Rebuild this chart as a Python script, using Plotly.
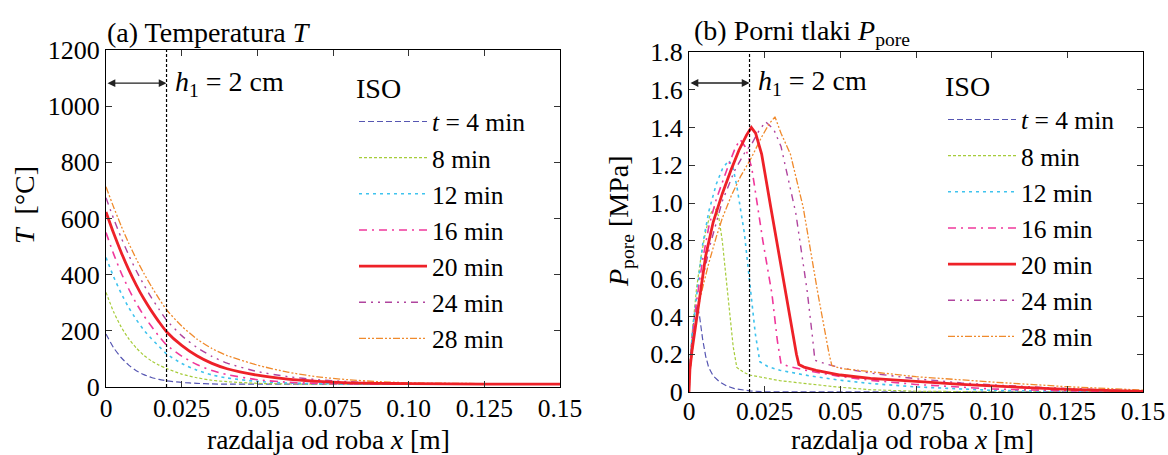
import plotly.graph_objects as go

W, H = 1168, 455

# ---------------- data: temperature ----------------
T_X = [0, 0.0025, 0.005, 0.0075, 0.01, 0.0125, 0.015, 0.0175, 0.02, 0.025, 0.03,
       0.035, 0.04, 0.05, 0.06, 0.07, 0.08, 0.09, 0.10, 0.125, 0.15]
T_4 = [189, 140, 105, 78, 58, 44, 34, 27, 22, 16, 13, 11, 10, 10, 10, 10, 10, 10, 10, 10, 10]
T_8 = [337, 268, 214, 172, 139, 113, 93, 78, 66, 46, 33, 24, 19, 13, 11, 10, 10, 10, 10, 10, 10]
T_12 = [461, 393, 334, 283, 240, 203, 172, 145, 118, 84, 60, 43, 32, 20, 14, 12, 11, 10, 10, 10, 10]
T_16 = [550, 474, 407, 349, 298, 254, 216, 181, 150, 110, 80, 59, 44, 26, 17, 13, 11, 10, 10, 10, 10]
T_20 = [623, 548, 480, 418, 363, 314, 271, 232, 197, 148, 111, 84, 65, 42, 28, 20, 15, 13, 12, 10, 10]
T_24 = [674, 600, 532, 470, 414, 364, 318, 277, 238, 183, 141, 109, 85, 55, 37, 26, 19, 15, 13, 11, 10]
T_28 = [713, 641, 574, 512, 456, 405, 358, 315, 275, 217, 171, 137, 112, 78, 53, 36, 26, 19, 15, 12, 10]

# ---------------- data: pore pressure ----------------
P4_X = [0, 0.0004, 0.0012, 0.002, 0.0028, 0.0035, 0.0045, 0.0055, 0.0065, 0.008, 0.01,
        0.0125, 0.015, 0.02, 0.025, 0.15]
P4 = [0, 0.18, 0.33, 0.42, 0.46, 0.40, 0.28, 0.19, 0.13, 0.085, 0.055, 0.032, 0.018,
      0.006, 0.001, 0]

P8_X = [0, 0.0004, 0.0012, 0.0025, 0.004, 0.0055, 0.007, 0.0085, 0.0098, 0.011, 0.0128,
        0.0146, 0.0158, 0.018, 0.02, 0.025, 0.03, 0.04, 0.05, 0.06, 0.075, 0.1, 0.15]
P8 = [0, 0.17, 0.34, 0.55, 0.72, 0.85, 0.94, 0.98, 0.93, 0.80, 0.52, 0.24, 0.13, 0.105,
      0.09, 0.074, 0.06, 0.042, 0.025, 0.012, 0.004, 0.001, 0]

P12_X = [0, 0.0004, 0.0012, 0.0025, 0.0045, 0.0066, 0.009, 0.011, 0.0131, 0.0145, 0.0158,
         0.0183, 0.0201, 0.0219, 0.0234, 0.026, 0.03, 0.04, 0.05, 0.06, 0.075, 0.09, 0.1,
         0.125, 0.15]
P12 = [0, 0.16, 0.33, 0.52, 0.78, 0.96, 1.10, 1.18, 1.226, 1.19, 1.09, 0.84, 0.575, 0.31,
       0.16, 0.135, 0.115, 0.085, 0.062, 0.045, 0.027, 0.014, 0.009, 0.003, 0]

P16_X = [0, 0.0004, 0.0012, 0.0025, 0.0045, 0.0066, 0.009, 0.011, 0.0135, 0.0155, 0.017,
         0.0185, 0.0207, 0.0244, 0.0274, 0.0292, 0.0304, 0.033, 0.04, 0.05, 0.06, 0.075,
         0.09, 0.1, 0.125, 0.15]
P16 = [0, 0.15, 0.30, 0.48, 0.70, 0.88, 1.02, 1.11, 1.22, 1.30, 1.335, 1.30, 1.19, 0.80,
       0.52, 0.27, 0.15, 0.135, 0.11, 0.082, 0.062, 0.04, 0.024, 0.016, 0.006, 0.002]

P20_X = [0, 0.0003, 0.001, 0.0022, 0.004, 0.0055, 0.008, 0.011, 0.014, 0.0165, 0.019,
         0.0206, 0.022, 0.024, 0.027, 0.030, 0.033, 0.0355, 0.0363, 0.038, 0.042, 0.05,
         0.06, 0.075, 0.09, 0.1, 0.125, 0.15]
P20 = [0, 0.12, 0.22, 0.35, 0.55, 0.72, 0.90, 1.05, 1.18, 1.28, 1.36, 1.40, 1.37, 1.26,
       0.98, 0.70, 0.43, 0.20, 0.145, 0.132, 0.115, 0.09, 0.072, 0.055, 0.04, 0.032,
       0.014, 0.003]

P24_X = [0, 0.0004, 0.0012, 0.0025, 0.0045, 0.007, 0.011, 0.015, 0.0185, 0.0206, 0.023,
         0.0253, 0.028, 0.0304, 0.0353, 0.039, 0.0408, 0.0416, 0.045, 0.05, 0.06, 0.075,
         0.09, 0.1, 0.125, 0.15]
P24 = [0, 0.13, 0.26, 0.42, 0.60, 0.78, 1.01, 1.17, 1.27, 1.31, 1.38, 1.431, 1.39, 1.30,
       0.946, 0.54, 0.29, 0.168, 0.15, 0.128, 0.10, 0.07, 0.048, 0.038, 0.018, 0.006]

P28_X = [0, 0.0003, 0.001, 0.0022, 0.004, 0.0065, 0.009, 0.011, 0.014, 0.017, 0.0206,
         0.024, 0.0265, 0.0284, 0.0304, 0.0335, 0.0377, 0.0426, 0.0463, 0.0472, 0.05,
         0.06, 0.075, 0.1, 0.125, 0.15]
P28 = [0, 0.10, 0.20, 0.38, 0.52, 0.68, 0.82, 0.92, 1.04, 1.14, 1.24, 1.35, 1.42, 1.457,
       1.37, 1.26, 0.98, 0.52, 0.20, 0.14, 0.125, 0.108, 0.081, 0.053, 0.028, 0.01]

NAMES = ["<i>t</i> = 4 min", "8 min", "12 min", "16 min", "20 min", "24 min", "28 min"]
COLORS = ["#5656b2", "#a6cc3a", "#3fc3ee", "#f0389c", "#ee2128", "#b0449e", "#f08a2c"]
DASHES = ["6px,3px", "3px,2px", "3px,4px", "8px,5px,2px,5px", "solid",
          "7px,5px,2px,5px,2px,5px", "7px,2px,2px,2px,2px,2px"]
WIDTHS = [1.2, 1.2, 1.6, 1.6, 2.8, 1.4, 1.3]

T_SERIES = [T_4, T_8, T_12, T_16, T_20, T_24, T_28]
P_SERIES = [(P4_X, P4), (P8_X, P8), (P12_X, P12), (P16_X, P16), (P20_X, P20),
            (P24_X, P24), (P28_X, P28)]

H1 = 0.02          # h1 = 2 cm
ARROW_T = 1082
ARROW_P = 1.636

X_TICKS = [0, 0.025, 0.05, 0.075, 0.10, 0.125, 0.15]
X_TICKTEXT = ["0", "0.025", "0.05", "0.075", "0.10", "0.125", "0.15"]
T_TICKS = [0, 200, 400, 600, 800, 1000, 1200]
P_TICKS = [0, 0.2, 0.4, 0.6, 0.8, 1.0, 1.2, 1.4, 1.6, 1.8]
P_TICKTEXT = ["0", "0.2", "0.4", "0.6", "0.8", "1.0", "1.2", "1.4", "1.6", "1.8"]

FONT = "Liberation Serif, serif"

fig = go.Figure()
order = [0, 1, 2, 3, 5, 6, 4]  # draw red on top
for i in order:
    fig.add_trace(go.Scatter(
        x=T_X, y=T_SERIES[i], mode="lines", name=NAMES[i], xaxis="x", yaxis="y",
        line=dict(color=COLORS[i], width=WIDTHS[i], dash=DASHES[i], shape="spline", smoothing=0.6),
        legend="legend", legendrank=i + 1, legendgroup="a%d" % i))
for i in order:
    px_, py_ = P_SERIES[i]
    fig.add_trace(go.Scatter(
        x=px_, y=py_, mode="lines", name=NAMES[i], xaxis="x2", yaxis="y2",
        line=dict(color=COLORS[i], width=WIDTHS[i], dash=DASHES[i]),
        legend="legend2", legendrank=i + 1, legendgroup="b%d" % i))

axis_common = dict(showline=True, linecolor="black", linewidth=1, mirror="ticks",
                   ticks="inside", ticklen=6, tickcolor="#333", showgrid=False,
                   zeroline=False, automargin=False)
TICK_FONT = dict(family=FONT, size=26, color="black")
XTICK_FONT = dict(family=FONT, size=25.5, color="black")

LEG_FONT = dict(family=FONT, size=25.5, color="black")
fig.update_layout(
    width=W, height=H, margin=dict(l=0, r=0, t=0, b=0, pad=0, autoexpand=False),
    paper_bgcolor="white", plot_bgcolor="white",
    font=dict(family=FONT, color="black"),
    xaxis=dict(domain=[106 / W, 560 / W], range=[0, 0.15], tickvals=X_TICKS,
               ticktext=X_TICKTEXT, anchor="y", tickfont=XTICK_FONT,
               ticklabelstandoff=-2, **axis_common),
    yaxis=dict(domain=[1 - 387 / H, 1 - 50 / H], range=[0, 1200], tickvals=T_TICKS,
               anchor="x", tickfont=TICK_FONT, **axis_common),
    xaxis2=dict(domain=[689 / W, 1143 / W], range=[0, 0.15], tickvals=X_TICKS,
                ticktext=X_TICKTEXT, anchor="y2", tickfont=XTICK_FONT,
                ticklabelstandoff=-4, **axis_common),
    yaxis2=dict(domain=[1 - 392 / H, 1 - 52 / H], range=[0, 1.8], tickvals=P_TICKS,
                ticktext=P_TICKTEXT, anchor="x2", tickfont=TICK_FONT, **axis_common),
    legend=dict(x=354 / W, y=1 - 62 / H, xanchor="left", yanchor="top",
                bgcolor="rgba(0,0,0,0)", font=LEG_FONT,
                title=dict(text="ISO", font=dict(family=FONT, size=28)),
                itemwidth=68, tracegroupgap=0, traceorder="normal"),
    legend2=dict(x=943 / W, y=1 - 60 / H, xanchor="left", yanchor="top",
                 bgcolor="rgba(0,0,0,0)", font=LEG_FONT,
                 title=dict(text="ISO", font=dict(family=FONT, size=28)),
                 itemwidth=68, tracegroupgap=0, traceorder="normal"),
    showlegend=True,
)

shape_line = dict(color="black", width=1.2, dash="3px,2px")
fig.add_shape(type="line", xref="x", yref="y domain", x0=H1, x1=H1, y0=0, y1=1, line=shape_line)
fig.add_shape(type="line", xref="x2", yref="y2 domain", x0=H1, x1=H1, y0=0, y1=1, line=shape_line)

for xr, yr, ay in [("x", "y", ARROW_T), ("x2", "y2", ARROW_P)]:
    fig.add_annotation(x=H1, y=ay, ax=0, ay=ay, xref=xr, yref=yr, axref=xr, ayref=yr,
                       showarrow=True, arrowhead=2, arrowside="end+start", arrowsize=1.2,
                       arrowwidth=1.3, arrowcolor="#222", text="")
    fig.add_annotation(x=H1, y=ay, xref=xr, yref=yr, xanchor="left", yanchor="middle",
                       xshift=6, showarrow=False,
                       text="<i>h</i><sub>1</sub> = 2 cm", font=dict(family=FONT, size=28))

title_font = dict(family=FONT, size=28, color="black")
axt_font = dict(family=FONT, size=27.5, color="black")
fig.add_annotation(x=105 / W, y=1 - 33 / H, xref="paper", yref="paper", xanchor="left",
                   yanchor="middle", showarrow=False, text="(a) Temperatura <i>T</i>", font=title_font)
fig.add_annotation(x=692 / W, y=1 - 33 / H, xref="paper", yref="paper", xanchor="left",
                   yanchor="middle", showarrow=False,
                   text="(b) Porni tlaki <i>P</i><sub>pore</sub>", font=title_font)
fig.add_annotation(x=328 / W, y=1 - 439 / H, xref="paper", yref="paper", xanchor="center",
                   yanchor="middle", showarrow=False, text="razdalja od roba <i>x</i> [m]", font=axt_font)
fig.add_annotation(x=912 / W, y=1 - 439.5 / H, xref="paper", yref="paper", xanchor="center",
                   yanchor="middle", showarrow=False, text="razdalja od roba <i>x</i> [m]", font=axt_font)
fig.add_annotation(x=25 / W, y=1 - 205 / H, xref="paper", yref="paper", xanchor="center",
                   yanchor="middle", showarrow=False, textangle=-90,
                   text="<i>T</i>  [°C]", font=title_font)
fig.add_annotation(x=620 / W, y=1 - 222 / H, xref="paper", yref="paper", xanchor="center",
                   yanchor="middle", showarrow=False, textangle=-90,
                   text="<i>P</i><sub>pore</sub> [MPa]", font=title_font)

fig.write_html("out.html", config={"displayModeBar": False})

# remove the default page margin so the figure sits at the window's corner
with open("out.html", encoding="utf-8") as f:
    html = f.read()
html = html.replace("<body>", '<body style="margin:0;padding:0;">', 1)
with open("out.html", "w", encoding="utf-8") as f:
    f.write(html)
